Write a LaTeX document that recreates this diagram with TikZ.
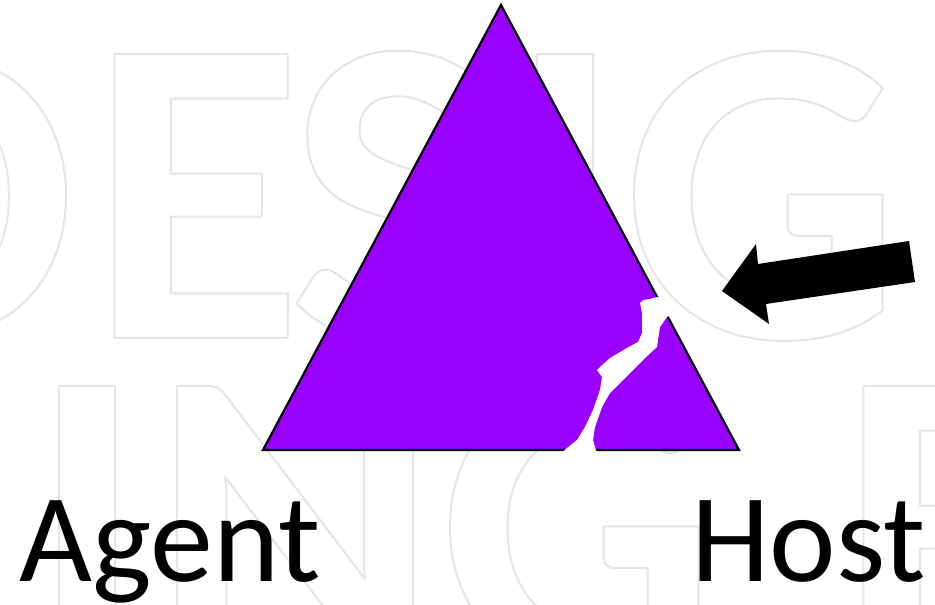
\documentclass[tikz,border=0pt]{standalone}
\usepackage{fontspec}
\setmainfont{Carlito}
\definecolor{vio}{RGB}{153,0,255}
\tikzset{
  wmark/.style={anchor=base, inner sep=0pt, font=\fontsize{438}{438}\selectfont\bfseries},
  label/.style={anchor=base west, inner sep=0pt, font=\fontsize{126}{126}\selectfont, text=black},
  tri/.style={fill=vio, draw=black, line width=2.2pt, line join=miter},
  crack/.style={fill=white, draw=none},
  bigarrow/.style={fill=black, draw=none}
}
\newcommand{\wmtext}[1]{\special{pdf:literal direct 1 Tr 2 w 1 j 0.9 G}#1\special{pdf:literal direct 0 Tr 0 G}}
\begin{document}
\begin{tikzpicture}[x=1pt,y=1pt]
\useasboundingbox (0,0) rectangle (935,605);
\begin{scope}
\clip (0,0) rectangle (935,605);
% watermark row 1
\node[wmark] (w1) at (-62,267) {\wmtext{D}};
\node[wmark] (w2) at (196,267) {\wmtext{E}};
\node[wmark] (w3) at (392,267) {\wmtext{S}};
\node[wmark] (w4) at (565,267) {\wmtext{I}};
\node[wmark] (w5) at (762,267) {\wmtext{G}};
% watermark row 2
\node[wmark] (w6) at (87,-65) {\wmtext{I}};
\node[wmark] (w7) at (295,-65) {\wmtext{N}};
\node[wmark] (w8) at (578,-65) {\wmtext{G}};
\node[wmark] (w9) at (945,-65) {\wmtext{E}};
\end{scope}
% triangle
\coordinate (apex) at (501,600);
\coordinate (bl) at (263,155);
\coordinate (br) at (739,155);
\filldraw[tri] (apex) -- (bl) -- (br) -- cycle;
% crack
\fill[crack] (640,302) -- (642,292) -- (642,272) -- (638,263) -- (627,257) -- (610,247)
  -- (600,238) -- (597,235) -- (602,228) -- (600,215) -- (593,195) -- (585,178)
  -- (577,165) -- (567,157) -- (560,151) -- (597,151) -- (593,165) -- (595,178)
  -- (602,198) -- (610,212) -- (620,222) -- (633,235) -- (645,247) -- (657,258)
  -- (658,265) -- (660,278) -- (667,288) -- (671,290) -- (663,306) -- (657,308)
  -- (650,306) -- (643,305) -- cycle;
% arrow
\fill[bigarrow] (722,314) -- (756,361) -- (758,341) -- (909,364) -- (915,323)
  -- (766,301) -- (769,281) -- cycle;
% labels
\node[label] (agent) at (19,23) {Agent};
\node[label] (host) at (691,23) {Host};
\end{tikzpicture}
\end{document}
